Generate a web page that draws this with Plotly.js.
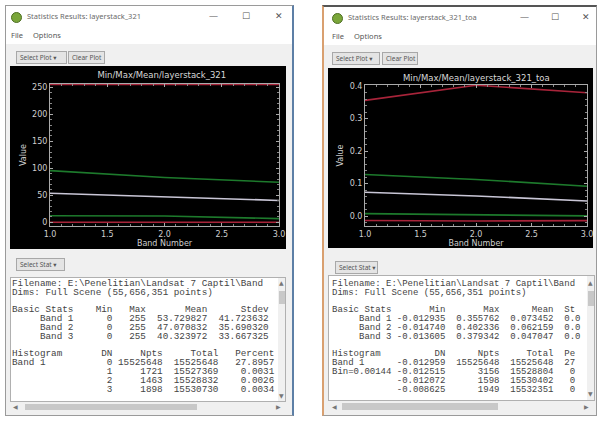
<!DOCTYPE html>
<html><head><meta charset="utf-8">
<script src="https://cdn.plot.ly/plotly-3.0.1.min.js"></script>
<style>
html,body{margin:0;padding:0;background:#fff;width:598px;height:421px;overflow:hidden;font-family:"Noto Sans","DejaVu Sans",sans-serif;}
.win{position:absolute;background:#f0f0f0;border:1px solid #9a9a9a;box-sizing:border-box;}
.tbar{position:absolute;left:0;right:0;top:0;height:20px;background:#fff;}
.icon{position:absolute;width:9px;height:9px;border-radius:50%;background:#7aa63a;border:1px solid #4d6e22;}
.ttl{position:absolute;font-size:7.5px;color:#6a6a6a;white-space:nowrap;}
.ctl{position:absolute;font-size:9px;color:#555;}
.menu{position:absolute;left:0;right:0;top:20px;height:18px;background:#fff;font-size:7.5px;color:#555;}
.btn{position:absolute;height:13px;background:#e4e4e4;border:1px solid #a8a8a8;box-sizing:border-box;font-size:6.5px;color:#555;line-height:11px;padding-left:3px;white-space:nowrap;}
.plot{position:absolute;background:#000;}
.txt{position:absolute;background:#fff;border:1px solid #b0b0b0;box-sizing:border-box;overflow:hidden;}
.clip{position:absolute;left:0;top:0;bottom:0;overflow:hidden;}
pre{margin:0;position:absolute;font-family:"Liberation Mono","DejaVu Sans Mono",monospace;font-size:9.3px;line-height:8.8px;color:#444;white-space:pre;}
.vs{position:absolute;background:#f0f0f0;}
.thumb{position:absolute;background:#c8c8c8;}
.arr{position:absolute;font-size:6px;color:#777;}
</style></head>
<body>
<!-- left window -->
<div class="win" style="left:5px;top:5px;width:289px;height:411px;border-right:2px solid #5d7fa6;">
  <div class="tbar">
    <div class="icon" style="left:5px;top:6px;"></div>
    <div class="ttl" style="left:21px;top:5px;">Statistics Results: layerstack_321</div>
    <div class="ctl" style="left:203px;top:3px;">&#8212;</div>
    <div class="ctl" style="left:236px;top:3px;">&#9744;</div>
    <div class="ctl" style="left:269px;top:3px;">&#10005;</div>
  </div>
  <div class="menu"><span style="position:absolute;left:5px;top:4px;">File</span><span style="position:absolute;left:27px;top:4px;">Options</span></div>
  <div class="btn" style="left:10px;top:45px;width:51px;">Select Plot &#9662;</div>
  <div class="btn" style="left:62px;top:45px;width:37px;">Clear Plot</div>
  <div class="btn" style="left:10px;top:252px;width:49px;">Select Stat &#9662;</div>
</div>
<div id="p1" class="plot" style="left:10px;top:66px;width:276px;height:183px;"></div>
<div class="txt" style="left:10px;top:277px;width:276px;height:125px;">
<div class="clip" style="width:266px;"><pre id="t1" style="left:1px;top:2px;"></pre></div>
<div class="vs" style="left:267px;top:0;width:8px;height:124px;">
  <div class="arr" style="left:1px;top:1px;">&#9650;</div>
  <div class="thumb" style="left:1px;top:13px;width:6px;height:13px;"></div>
  <div class="arr" style="left:1px;top:114px;">&#9660;</div>
</div>
</div>
<div class="vs" style="left:10px;top:402px;width:276px;height:10px;">
  <div class="arr" style="left:3px;top:1px;">&#9664;</div>
  <div class="thumb" style="left:15px;top:2px;width:172px;height:6px;"></div>
  <div class="arr" style="left:266px;top:1px;">&#9654;</div>
</div>

<!-- right window -->
<div class="win" style="left:322px;top:5px;width:275px;height:411px;border-left:2px solid #d9a070;border-top:2px solid #555;">
  <div class="tbar">
    <div class="icon" style="left:8px;top:6px;"></div>
    <div class="ttl" style="left:24px;top:5px;">Statistics Results: layerstack_321_toa</div>
    <div class="ctl" style="left:196px;top:3px;">&#8212;</div>
    <div class="ctl" style="left:227px;top:3px;">&#9744;</div>
    <div class="ctl" style="left:258px;top:3px;">&#10005;</div>
  </div>
  <div class="menu"><span style="position:absolute;left:8px;top:4px;">File</span><span style="position:absolute;left:30px;top:4px;">Options</span></div>
  <div class="btn" style="left:8px;top:45px;width:48px;">Select Plot &#9662;</div>
  <div class="btn" style="left:58px;top:45px;width:36px;">Clear Plot</div>
  <div class="btn" style="left:11px;top:254px;width:43px;">Select Stat &#9662;</div>
</div>
<div id="p2" class="plot" style="left:328px;top:68px;width:265px;height:180px;"></div>
<div class="txt" style="left:328px;top:275px;width:267px;height:126px;">
<div class="clip" style="width:257px;"><pre id="t2" style="left:3px;top:4px;font-size:9px;"></pre></div>
<div class="vs" style="left:258px;top:0;width:8px;height:125px;">
  <div class="arr" style="left:1px;top:3px;">&#9650;</div>
  <div class="thumb" style="left:1px;top:15px;width:6px;height:15px;"></div>
  <div class="arr" style="left:1px;top:114px;">&#9660;</div>
</div>
</div>
<div class="vs" style="left:328px;top:401px;width:267px;height:11px;">
  <div class="arr" style="left:4px;top:2px;">&#9664;</div>
  <div class="thumb" style="left:14px;top:2px;width:156px;height:7px;"></div>
  <div class="arr" style="left:256px;top:2px;">&#9654;</div>
</div>

<script>
// ---- data ----
const bands = [1, 2, 3];
const bandTickVals = [1, 1.5, 2, 2.5, 3];
const bandTickText = ['1.0', '1.5', '2.0', '2.5', '3.0'];

// layerstack_321 (DN)
const dnMin   = [0, 0, 0];
const dnMax   = [255, 255, 255];
const dnMean  = [53.73, 47.07, 40.32];
const dnUpper = [95.5, 82.8, 74.0];   // mean + stdev
const dnLower = [12.0, 11.4, 6.7];    // mean - stdev
const dnTickVals = [0, 50, 100, 150, 200, 250];
const dnTickText = ['0', '50', '100', '150', '200', '250'];

// layerstack_321_toa (reflectance)
const rfMin   = [-0.0129, -0.0147, -0.0136];
const rfMax   = [0.3558, 0.4023, 0.3793];
const rfMean  = [0.0735, 0.0622, 0.0470];
const rfUpper = [0.128, 0.113, 0.092];
const rfLower = [0.008, 0.004, 0.001];
const rfTickVals = [0.0, 0.1, 0.2, 0.3, 0.4];
const rfTickText = ['0.0', '0.1', '0.2', '0.3', '0.4'];

const statsText1 = [
"Filename: E:\\Penelitian\\Landsat 7 Captil\\Band",
"Dims: Full Scene (55,656,351 points)",
"",
"Basic Stats    Min   Max       Mean      Stdev",
"     Band 1      0   255  53.729827  41.723632",
"     Band 2      0   255  47.070832  35.690320",
"     Band 3      0   255  40.323972  33.667325",
"",
"Histogram       DN     Npts     Total   Percent",
"Band 1           0 15525648  15525648   27.8957",
"                 1     1721  15527369    0.0031",
"                 2     1463  15528832    0.0026",
"                 3     1898  15530730    0.0034"
];
const statsText2 = [
"Filename: E:\\Penelitian\\Landsat 7 Captil\\Band",
"Dims: Full Scene (55,656,351 points)",
"",
"Basic Stats       Min       Max      Mean  St",
"     Band 1 -0.012935  0.355762  0.073452  0.0",
"     Band 2 -0.014740  0.402336  0.062159  0.0",
"     Band 3 -0.013605  0.379342  0.047047  0.0",
"",
"Histogram          DN      Npts     Total  Pe",
"Band 1      -0.012959  15525648  15525648  27",
"Bin=0.00144 -0.012515      3156  15528804   0",
"            -0.012072      1598  15530402   0",
"            -0.008625      1949  15532351   0"
];
document.getElementById('t1').textContent = statsText1.join('\n');
document.getElementById('t2').textContent = statsText2.join('\n');

// ---- plotting ----
const RED = '#a8243a', GREEN = '#1d7a2c', WHITE = '#c9c6d6';
function mk(y, color) {
  return {x: bands, y: y, mode: 'lines', type: 'scatter', line: {color: color, width: 1.6}, hoverinfo: 'skip'};
}
function axis(range, tv, tt, title, minorDtick, standoff) {
  return {
    range: range, tickvals: tv, ticktext: tt, ticks: 'inside', ticklen: 3, tickcolor: '#aaa',
    showline: true, linecolor: '#aaa', linewidth: 1, mirror: 'ticks', zeroline: false, showgrid: false,
    ticklabeloverflow: 'allow',
    tickfont: {size: 8, color: '#cfcfcf', family: 'DejaVu Sans'},
    minor: {dtick: minorDtick, ticks: 'inside', ticklen: 2, tickcolor: '#888'},
    title: {text: title, font: {size: 8, color: '#cfcfcf', family: 'DejaVu Sans'}, standoff: standoff}
  };
}
function lay(w, h, m, titleText, titleX, titleY, xr, yr, ytv, ytt, yMinor) {
  return {
    width: w, height: h, margin: m, paper_bgcolor: '#000', plot_bgcolor: '#000', showlegend: false,
    title: {text: titleText, font: {size: 8.5, color: '#d8d8d8', family: 'DejaVu Sans'}, x: titleX, xanchor: 'center', y: titleY, yanchor: 'middle', yref: 'container'},
    xaxis: axis(xr, bandTickVals, bandTickText, 'Band Number', 0.1, 2),
    yaxis: axis(yr, ytv, ytt, 'Value', yMinor, 4)
  };
}
const cfg = {staticPlot: true, displayModeBar: false};

Plotly.newPlot('p1', [
  mk(dnMin, RED), mk(dnMax, RED), mk(dnLower, GREEN), mk(dnUpper, GREEN), mk(dnMean, WHITE)
], lay(276, 183, {l: 40, r: 7, t: 18, b: 23, pad: 0}, 'Min/Max/Mean/layerstack_321', 0.55, 0.95,
      [1, 3], [-7, 256], dnTickVals, dnTickText, 10), cfg);

Plotly.newPlot('p2', [
  mk(rfMin, RED), mk(rfMax, RED), mk(rfLower, GREEN), mk(rfUpper, GREEN), mk(rfMean, WHITE)
], lay(265, 180, {l: 37, r: 6, t: 17, b: 22, pad: 0}, 'Min/Max/Mean/layerstack_321_toa', 0.56, 0.945,
      [1, 3], [-0.03, 0.403], rfTickVals, rfTickText, 0.02), cfg);
</script>
</body></html>
